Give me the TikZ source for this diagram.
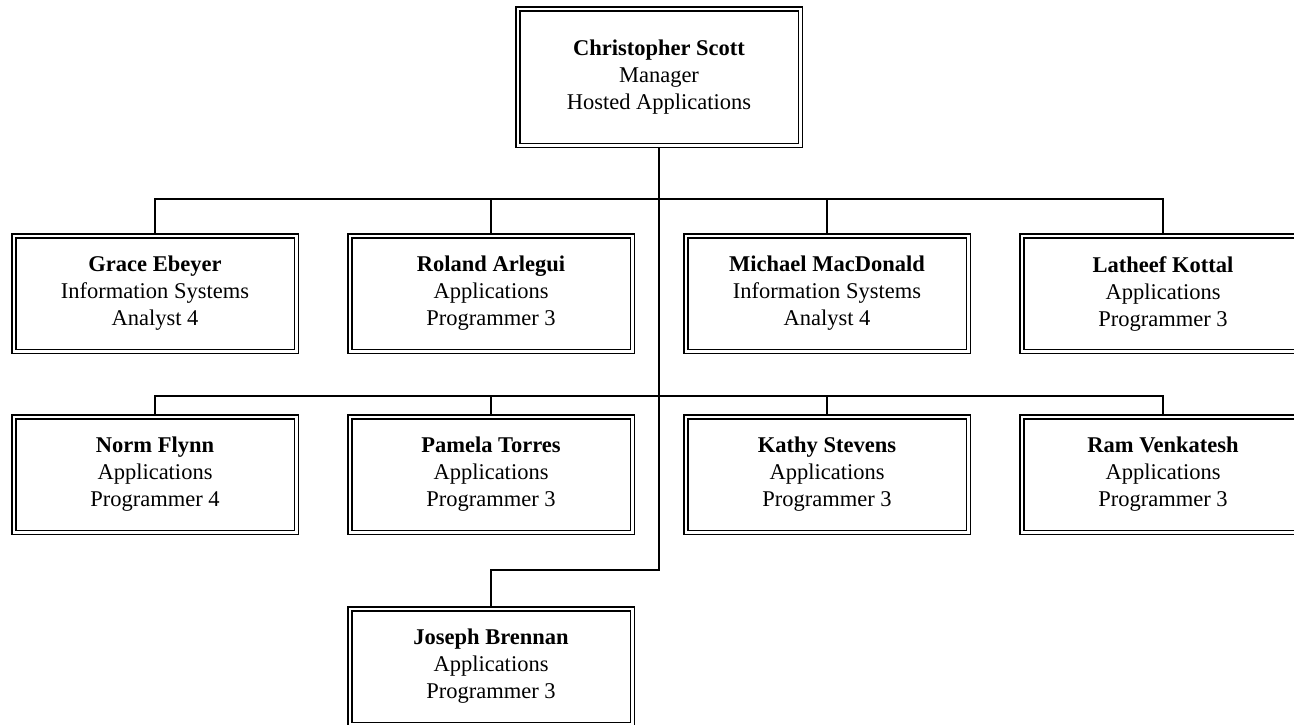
\documentclass[tikz,border=0pt]{standalone}
\usepackage{fontspec}
\setmainfont{Liberation Serif}
\usepackage{tikz}
\usetikzlibrary{positioning}
\begin{document}
\begin{tikzpicture}[x=1pt, y=1pt, node distance=336pt, staff/.style={rectangle, draw=black, double, double distance=2.5pt, line width=1.5pt, outer sep=2.75pt, minimum width=282.5pt, minimum height=115.5pt, align=center, font=\fontsize{22.5}{27}\selectfont},boss/.style={staff, minimum height=136.5pt},link/.style={draw=black, line width=1.4pt},trunk/.style={draw=black, line width=2.5pt},]
            \useasboundingbox (0,0) rectangle (1294,-724);
            \clip (0,0) rectangle (1294,-724);
            \node[boss] (scott) at (659,-77) {\textbf{Christopher Scott}\\Manager\\Hosted Applications};
            \node[staff] (ebeyer) at (155,-293.5) {\textbf{Grace Ebeyer}\\Information Systems\\Analyst 4};
            \node[staff, right of=ebeyer] (arlegui) {\textbf{Roland Arlegui}\\Applications\\Programmer 3};
            \node[staff, right of=arlegui] (macdonald) {\textbf{Michael MacDonald}\\Information Systems\\Analyst 4};
            \node[staff, right of=macdonald] (kottal) {\textbf{Latheef Kottal}\\Applications\\Programmer 3};
            \node[staff] (flynn) at (155,-474.5) {\textbf{Norm Flynn}\\Applications\\Programmer 4};
            \node[staff, right of=flynn] (torres) {\textbf{Pamela Torres}\\Applications\\Programmer 3};
            \node[staff, right of=torres] (stevens) {\textbf{Kathy Stevens}\\Applications\\Programmer 3};
            \node[staff, right of=stevens] (venkatesh) {\textbf{Ram Venkatesh}\\Applications\\Programmer 3};
            \node[staff] (brennan) at (491,-666.5) {\textbf{Joseph Brennan}\\Applications\\Programmer 3};
            \coordinate (hub1) at (659,-199);
            \coordinate (hub2) at (659,-396);
            \coordinate (turn) at (659,-570);
            \draw[trunk] (scott.south) -- (hub2);
            \draw[link] (ebeyer.north) |- (hub1);
            \draw[link] (arlegui.north) |- (hub1);
            \draw[link] (macdonald.north) |- (hub1);
            \draw[link] (kottal.north) |- (hub1);
            \draw[link] (flynn.north) |- (hub2);
            \draw[link] (torres.north) |- (hub2);
            \draw[link] (stevens.north) |- (hub2);
            \draw[link] (venkatesh.north) |- (hub2);
            \draw[link] (hub2) -- (turn) -| (brennan.north);
        \end{tikzpicture}
\end{document}
